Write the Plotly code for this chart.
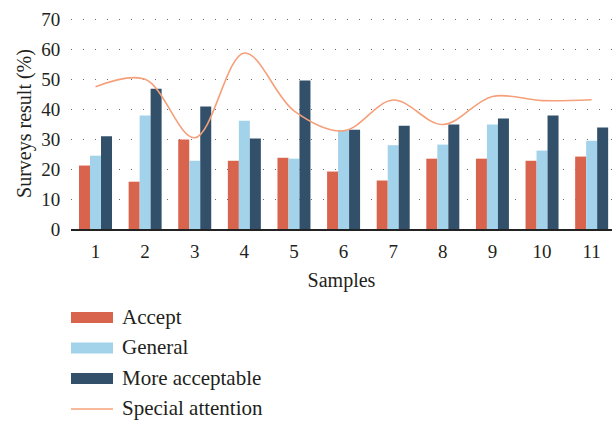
import plotly.graph_objects as go

# Survey data per sample
samples = [1, 2, 3, 4, 5, 6, 7, 8, 9, 10, 11]
accept = [21.2, 15.8, 29.9, 22.8, 23.8, 19.2, 16.2, 23.5, 23.5, 22.8, 24.2]
general = [24.5, 37.9, 22.8, 36.2, 23.5, 32.9, 28.0, 28.2, 34.9, 26.2, 29.5]
more_acceptable = [31.0, 46.9, 40.9, 30.2, 49.6, 33.2, 34.5, 34.9, 36.9, 37.9, 33.9]
special_attention = [47.5, 50.0, 30.5, 58.8, 39.5, 32.8, 43.1, 34.9, 44.3, 42.9, 43.2]

names = ["Accept", "General", "More acceptable", "Special attention"]
colors = ["#D9644E", "#A2D3EA", "#33506A", "#F5A07A"]

FONT = "Liberation Serif, Times New Roman, serif"
TEXT = "#231F20"

W, H = 612, 422
ML, MR, MT, MB = 71, 0, 18, 193
PW, PH = W - ML - MR, H - MT - MB

fig = go.Figure()
for name, vals, col in zip(names[:3], [accept, general, more_acceptable], colors[:3]):
    fig.add_trace(go.Bar(x=samples, y=vals, name=name, marker_color=col,
                         marker_line_width=0))
fig.add_trace(go.Scatter(x=samples, y=special_attention, name=names[3], mode="lines",
                         line=dict(color=colors[3], width=1.6, shape="spline", smoothing=1.0)))

fig.update_layout(
    width=W, height=H,
    margin=dict(l=ML, r=MR, t=MT, b=MB),
    paper_bgcolor="white", plot_bgcolor="white",
    barmode="group", bargap=0.335, bargroupgap=0,
    showlegend=False,
    font=dict(family=FONT, color=TEXT, size=18),
)
fig.update_xaxes(
    range=[0.506, 11.41], tickvals=samples, ticktext=[str(s) for s in samples],
    showgrid=False, zeroline=False,
    showline=True, linecolor="#222222", linewidth=2,
    ticks="outside", ticklen=4, tickcolor="rgba(0,0,0,0)",
    tickfont=dict(size=19),
    title=dict(text="Samples", font=dict(size=20), standoff=12),
)
fig.update_yaxes(
    range=[0, 70.5], tickvals=[0, 10, 20, 30, 40, 50, 60, 70],
    showgrid=True, gridcolor="#6a6a6a", gridwidth=1.4, griddash="1.4px,10.6px",
    zeroline=False, showline=False,
    ticks="outside", ticklen=6, tickcolor="rgba(0,0,0,0)",
    tickfont=dict(size=19),
    title=dict(text="Surveys result (%)", font=dict(size=20), standoff=4),
)

# Legend drawn below the plot area
def px_x(x):
    return (x - ML) / PW

def px_y(y):
    return (H - MB - y) / PH

legend_rows = [317.5, 348, 378.5, 409]
for i, (name, col, yc) in enumerate(zip(names, colors, legend_rows)):
    if i < 3:
        fig.add_shape(type="rect", xref="paper", yref="paper",
                      x0=px_x(71), x1=px_x(113), y0=px_y(yc + 5.5), y1=px_y(yc - 5.5),
                      fillcolor=col, line_width=0)
    else:
        fig.add_shape(type="line", xref="paper", yref="paper",
                      x0=px_x(71), x1=px_x(113), y0=px_y(yc), y1=px_y(yc),
                      line=dict(color=col, width=1.6))
    fig.add_annotation(text=name, xref="paper", yref="paper",
                       x=px_x(120), y=px_y(yc - 1), xanchor="left", yanchor="middle",
                       showarrow=False, font=dict(size=21, family=FONT, color=TEXT))

fig.write_html("out.html")
